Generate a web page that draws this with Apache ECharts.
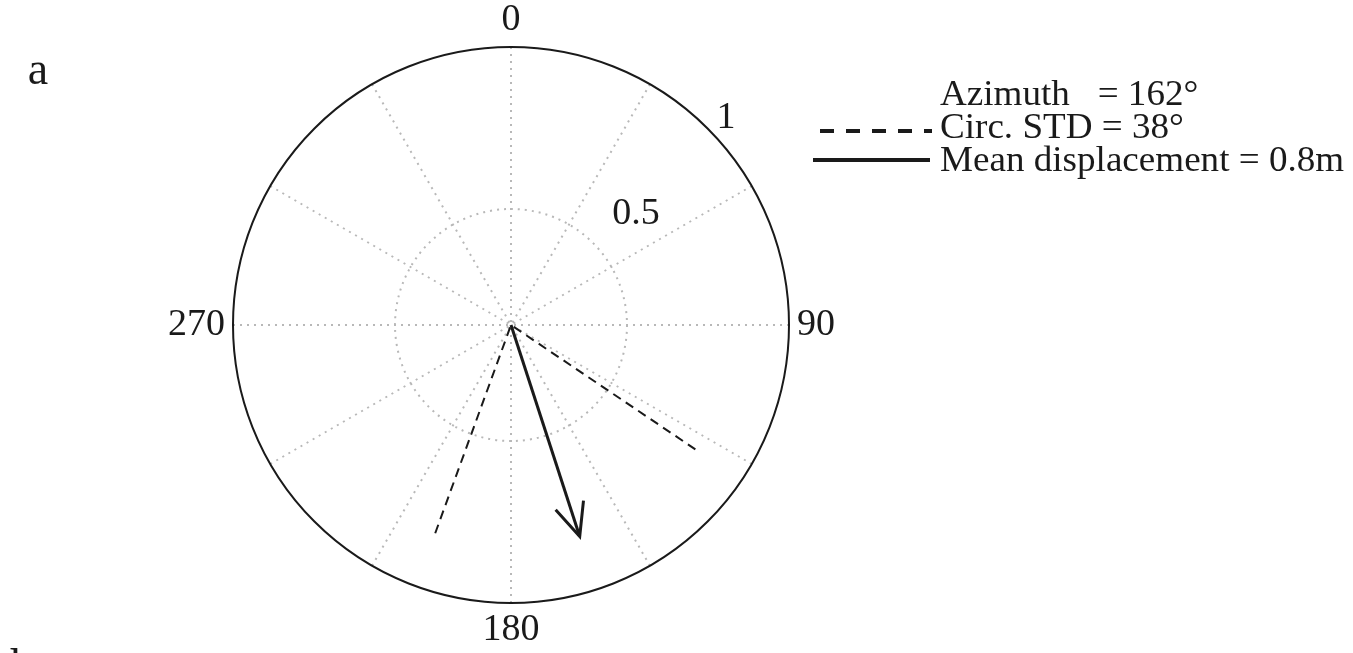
<!DOCTYPE html>
<html>
<head>
<meta charset="utf-8">
<script src="https://cdn.jsdelivr.net/npm/echarts@6/dist/echarts.min.js"></script>
<style>html,body{margin:0;padding:0;background:#fff;}#chart{width:1353px;height:653px;}</style>
</head>
<body>
<div id="chart"></div>
<script>
// ---- data ----
const cardinalLabels = [0, 90, 180, 270];
const azimuth = 162;          // degrees
const circStd = 38;           // degrees
const meanDisplacement = 0.8; // m
const stdLines = [[0.8, 124], [0, 0], [0.8, 200]]; // [radius, azimuth]
const arrowData = [[meanDisplacement, azimuth]];
const radiusLabels = ['1', '0.5'];
const legendTexts = ['Azimuth   = 162°', 'Circ. STD = 38°', 'Mean displacement = 0.8m'];

const FONT = 'Liberation Serif';
const chart = echarts.init(document.getElementById('chart'), null, {renderer: 'canvas'});
const C = [511, 325];
const legendFont = '35px "Liberation Serif"';

chart.setOption({
  animation: false,
  backgroundColor: '#fff',
  polar: [
    {center: C, radius: 278},
    {center: C, radius: 116}
  ],
  angleAxis: [{
    polarIndex: 0, type: 'value', min: 0, max: 360, interval: 30,
    startAngle: 90, clockwise: true,
    axisLine: {lineStyle: {color: '#1a1a1a', width: 2}},
    axisTick: {show: false},
    axisLabel: {
      margin: 8, fontSize: 38, fontFamily: FONT, color: '#1a1a1a',
      formatter: v => (cardinalLabels.indexOf(v) >= 0 ? String(v) : '')
    },
    splitLine: {show: true, lineStyle: {type: [2, 5], color: '#b8b8b8', width: 2}}
  }, {
    polarIndex: 1, type: 'value', min: 0, max: 360, startAngle: 90,
    axisLine: {lineStyle: {type: [2, 5], color: '#b8b8b8', width: 2}},
    axisTick: {show: false}, axisLabel: {show: false}, splitLine: {show: false}
  }],
  radiusAxis: [{
    polarIndex: 0, type: 'value', min: 0, max: 1,
    axisLine: {show: false}, axisTick: {show: false}, axisLabel: {show: false}, splitLine: {show: false}
  }, {
    polarIndex: 1, type: 'value', min: 0, max: 1,
    axisLine: {show: false}, axisTick: {show: false}, axisLabel: {show: false}, splitLine: {show: false}
  }],
  series: [{
    type: 'line', coordinateSystem: 'polar', polarIndex: 0,
    data: stdLines, symbol: 'none',
    lineStyle: {color: '#1a1a1a', width: 2, type: [9, 6]}
  }, {
    type: 'custom', coordinateSystem: 'polar', polarIndex: 0,
    data: arrowData,
    renderItem: function (params, api) {
      const tip = api.coord([api.value(0), api.value(1)]);
      const o = api.coord([0, 0]);
      const dx = tip[0] - o[0], dy = tip[1] - o[1];
      const len = Math.hypot(dx, dy);
      const ux = dx / len, uy = dy / len;
      const L = 36, a = 24 * Math.PI / 180;
      const arm = s => [tip[0] - L * (ux * Math.cos(a) - s * uy * Math.sin(a)),
                        tip[1] - L * (uy * Math.cos(a) + s * ux * Math.sin(a))];
      const st = {stroke: '#1a1a1a', lineWidth: 3, fill: null};
      return {type: 'group', children: [
        {type: 'line', shape: {x1: o[0], y1: o[1], x2: tip[0], y2: tip[1]}, style: st},
        {type: 'polyline', shape: {points: [arm(1), tip, arm(-1)]}, style: st}
      ]};
    }
  }],
  graphic: [
    {type: 'text', x: 38, y: 72, style: {text: 'a', font: '46px "Liberation Serif"', fill: '#1a1a1a', align: 'center', verticalAlign: 'middle'}},
    {type: 'text', x: 22, y: 646, style: {text: 'b', font: '46px "Liberation Serif"', fill: '#1a1a1a', align: 'center', verticalAlign: 'top'}},
    {type: 'text', x: 726, y: 118, style: {text: radiusLabels[0], font: '38px "Liberation Serif"', fill: '#1a1a1a', align: 'center', verticalAlign: 'middle'}},
    {type: 'text', x: 636, y: 214, style: {text: radiusLabels[1], font: '38px "Liberation Serif"', fill: '#1a1a1a', align: 'center', verticalAlign: 'middle'}},
    {type: 'text', x: 940, y: 96, scaleX: 1.06, style: {text: legendTexts[0], font: legendFont, fill: '#1a1a1a', verticalAlign: 'middle'}},
    {type: 'text', x: 940, y: 129, scaleX: 1.06, style: {text: legendTexts[1], font: legendFont, fill: '#1a1a1a', verticalAlign: 'middle'}},
    {type: 'text', x: 940, y: 162, scaleX: 1.06, style: {text: legendTexts[2], font: legendFont, fill: '#1a1a1a', verticalAlign: 'middle'}},
    {type: 'line', shape: {x1: 820, y1: 131, x2: 932, y2: 131}, style: {stroke: '#1a1a1a', lineWidth: 4, lineDash: [14, 12]}},
    {type: 'line', shape: {x1: 813, y1: 160, x2: 930, y2: 160}, style: {stroke: '#1a1a1a', lineWidth: 4}}
  ]
});
</script>
</body>
</html>
